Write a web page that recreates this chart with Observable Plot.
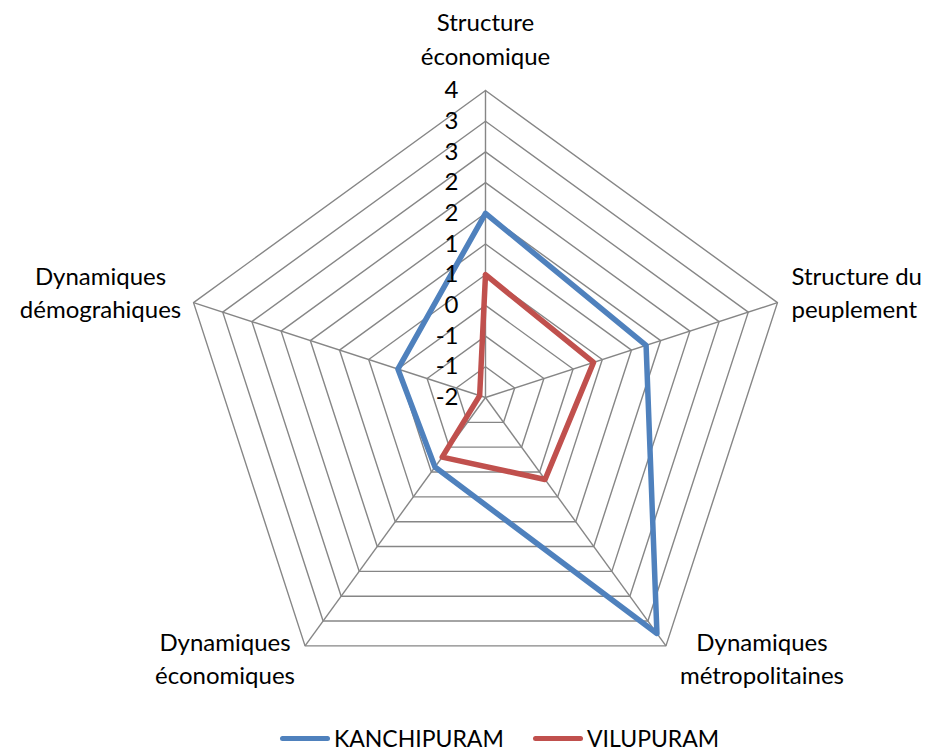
<!DOCTYPE html>
<html><head><meta charset="utf-8">
<script src="https://cdn.jsdelivr.net/npm/d3@7"></script>
<script src="https://cdn.jsdelivr.net/npm/@observablehq/plot@0.6"></script>
<style>
body{margin:0;background:#fff;font-family:Lato,"Open Sans",sans-serif;}
#legend{height:21px;position:relative;overflow:visible;}
.item{position:absolute;top:-2px;display:flex;align-items:center;height:20px;font-size:23px;line-height:20px;color:#000;white-space:nowrap;}
.swatch{display:inline-block;width:50px;height:5px;border-radius:3px;margin-right:4px;}
</style>
</head><body><div id="chart"></div><div id="legend"></div><script>
const categories = ["Structure\néconomique","Structure du\npeuplement","Dynamiques\nmétropolitaines","Dynamiques\néconomiques","Dynamiques\ndémograhiques"];
const kanchipuram = [1.5, 1.25, 3.25, -0.1, 0];
const vilupuram = [0.5, 0.35, 0.15, -0.3, -1.4];
const tickValues = [-1.5, -1, -0.5, 0, 0.5, 1, 1.5, 2, 2.5, 3, 3.5];
const tickLabels = ["-2","-1","-1","0","1","1","2","2","3","3","4"];
const seriesNames = ["KANCHIPURAM","VILUPURAM"];
const seriesColors = ["#4F81BD","#C0504D"];

const W = 929, H = 730, CX = 485, CY = 397, R = 307;
const r = d3.scaleLinear().domain([tickValues[0], tickValues[tickValues.length-1]]).range([0, R]);
const n = categories.length;
const ang = i => i * 2 * Math.PI / n;
const px = (i, v) => r(v) * Math.sin(ang(i));
const py = (i, v) => r(v) * Math.cos(ang(i));

const rings = [];
tickValues.slice(1).forEach(t => {
  for (let i = 0; i <= n; i++) rings.push({t, x: px(i % n, t), y: py(i % n, t)});
});
const outer = tickValues[tickValues.length-1];
const spokes = categories.map((c, i) => ({x: px(i, outer), y: py(i, outer)}));

const seriesData = [];
[kanchipuram, vilupuram].forEach((vals, s) => {
  for (let i = 0; i <= n; i++) seriesData.push({s: seriesNames[s], x: px(i % n, vals[i % n]), y: py(i % n, vals[i % n])});
});

const ticks = tickValues.map((t, k) => ({label: tickLabels[k], y: r(t)}));

const labelStyle = [
  {anchor: "middle", dx: 0, dy: -53},
  {anchor: "start", dx: 14, dy: -12},
  {anchor: "middle", dx: 96, dy: 11},
  {anchor: "middle", dx: -80, dy: 11},
  {anchor: "middle", dx: -93, dy: -12}
];
const labelMarks = categories.map((c, i) => Plot.text([{c, x: px(i, outer), y: py(i, outer)}], {
  x: "x", y: "y", text: "c", textAnchor: labelStyle[i].anchor, dx: labelStyle[i].dx, dy: labelStyle[i].dy,
  lineAnchor: "middle", lineHeight: 1.4, fontSize: 24, fill: "#000"
}));

const chart = Plot.plot({
  width: W, height: H, margin: 0,
  x: {axis: null, domain: [-CX, W - CX]},
  y: {axis: null, domain: [CY - H, CY]},
  style: {fontFamily: "Lato, 'Open Sans', sans-serif", background: "#fff"},
  marks: [
    Plot.line(rings, {x: "x", y: "y", z: "t", stroke: "#868686", strokeWidth: 1.4}),
    Plot.link(spokes, {x1: 0, y1: 0, x2: "x", y2: "y", stroke: "#868686", strokeWidth: 1.4}),
    Plot.line(seriesData, {x: "x", y: "y", z: "s", stroke: d => seriesColors[seriesNames.indexOf(d.s)], strokeWidth: 5.5, strokeLinejoin: "round"}),
    Plot.text(ticks, {x: 0, y: "y", text: "label", textAnchor: "end", dx: -27, fontSize: 24, fill: "#000"}),
    ...labelMarks
  ]
});
document.getElementById("chart").appendChild(chart);

const legend = document.getElementById("legend");
const lefts = [280, 533];
seriesNames.forEach((name, s) => {
  const it = document.createElement("div");
  it.className = "item";
  it.style.left = lefts[s] + "px";
  it.innerHTML = `<span class="swatch" style="background:${seriesColors[s]}"></span><span>${name}</span>`;
  legend.appendChild(it);
});
</script></body></html>
